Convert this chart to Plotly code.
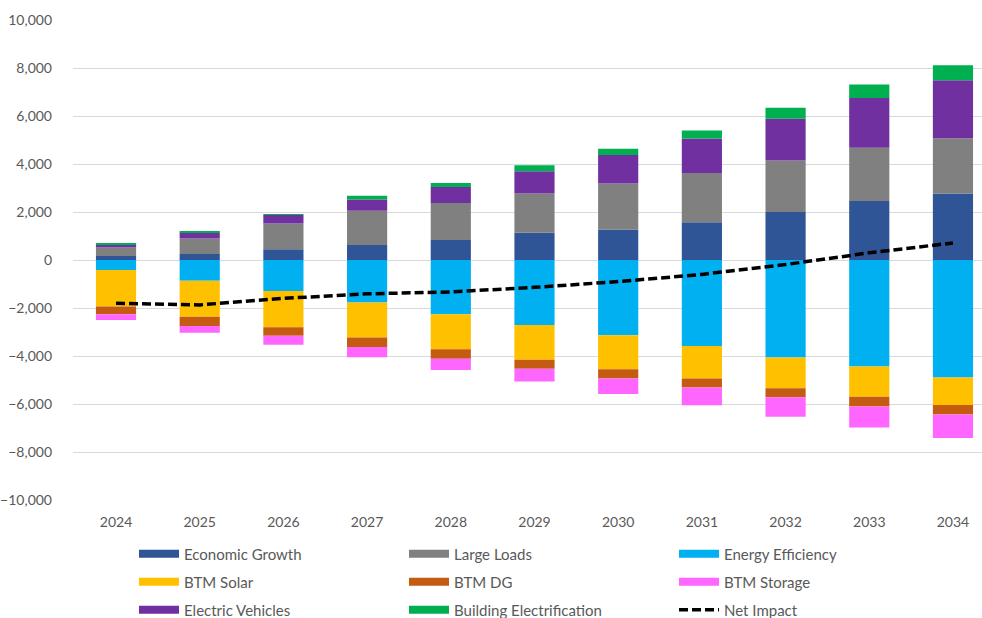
import plotly.graph_objects as go

years = ["2024", "2025", "2026", "2027", "2028", "2029", "2030", "2031", "2032", "2033", "2034"]

economic_growth = [170, 250, 445, 625, 830, 1135, 1275, 1570, 2000, 2455, 2775]
large_loads = [350, 650, 1080, 1430, 1550, 1635, 1915, 2055, 2150, 2220, 2300]
energy_efficiency = [-415, -860, -1290, -1775, -2260, -2705, -3135, -3580, -4065, -4440, -4895]
btm_solar = [-1525, -1500, -1510, -1455, -1455, -1455, -1415, -1360, -1275, -1260, -1150]
btm_dg = [-320, -390, -360, -390, -400, -375, -390, -375, -375, -400, -390]
btm_storage = [-235, -280, -375, -430, -470, -525, -640, -735, -820, -875, -985]
electric_vehicles = [140, 250, 350, 470, 665, 930, 1180, 1440, 1735, 2080, 2415]
building_electrification = [40, 30, 40, 150, 165, 250, 265, 335, 460, 555, 625]
net_impact = [-1800, -1870, -1600, -1410, -1330, -1140, -900, -600, -190, 300, 710]

series = [
    ("Economic Growth", economic_growth, "#2F5597"),
    ("Large Loads", large_loads, "#808080"),
    ("Energy Efficiency", energy_efficiency, "#00B0F0"),
    ("BTM Solar", btm_solar, "#FFC000"),
    ("BTM DG", btm_dg, "#C55A11"),
    ("BTM Storage", btm_storage, "#FF66FF"),
    ("Electric Vehicles", electric_vehicles, "#7030A0"),
    ("Building Electrification", building_electrification, "#00B050"),
]

legend_rows = ["legend", "legend", "legend", "legend2", "legend2", "legend2", "legend3", "legend3"]

fig = go.Figure()
for name, vals, color in series:
    fig.add_trace(go.Bar(x=years, y=vals, name=name, marker=dict(color=color, line=dict(width=0)),
                         showlegend=False))

# legend entries (wide swatches like the original)
for (name, vals, color), lg in zip(series, legend_rows):
    fig.add_trace(go.Scatter(x=[None], y=[None], mode="lines", name=name, legend=lg,
                             line=dict(color=color, width=8), showlegend=True))

fig.add_trace(go.Scatter(x=years, y=net_impact, mode="lines", name="Net Impact", legend="legend3",
                         line=dict(color="black", width=3.5, dash="9px,4px"), showlegend=True))

grid = "#D9D9D9"


def leg(row_y):
    return dict(orientation="h", xref="container", yref="container",
                x=134 / 982, y=1 - row_y / 618, xanchor="left", yanchor="middle",
                entrywidth=215, entrywidthmode="pixels", itemwidth=40,
                font=dict(size=15, color="#595959"), bgcolor="rgba(0,0,0,0)")


fig.update_layout(
    width=982, height=618,
    paper_bgcolor="white", plot_bgcolor="white",
    margin=dict(l=73, r=0, t=19.5, b=118, autoexpand=False),
    barmode="relative", bargap=0.52,
    font=dict(family="Lato, sans-serif", size=14, color="#595959"),
    xaxis=dict(type="category", range=[-0.514, 10.347], showgrid=False, showline=False,
               ticks="", tickfont=dict(size=14, color="#595959"), ticklabelstandoff=12),
    yaxis=dict(range=[-10000, 10000], dtick=2000, tickformat=",", showgrid=True,
               gridcolor=grid, gridwidth=1, zeroline=True, zerolinecolor=grid, zerolinewidth=1,
               showline=False, ticks="", tickfont=dict(size=14, color="#595959"),
               ticklabelstandoff=20),
    legend=leg(554),
    legend2=leg(582),
    legend3=leg(610),
)

fig.write_html("out.html", config={"displayModeBar": False},
               post_script="document.body.style.margin='0px';document.body.style.overflow='hidden';")
